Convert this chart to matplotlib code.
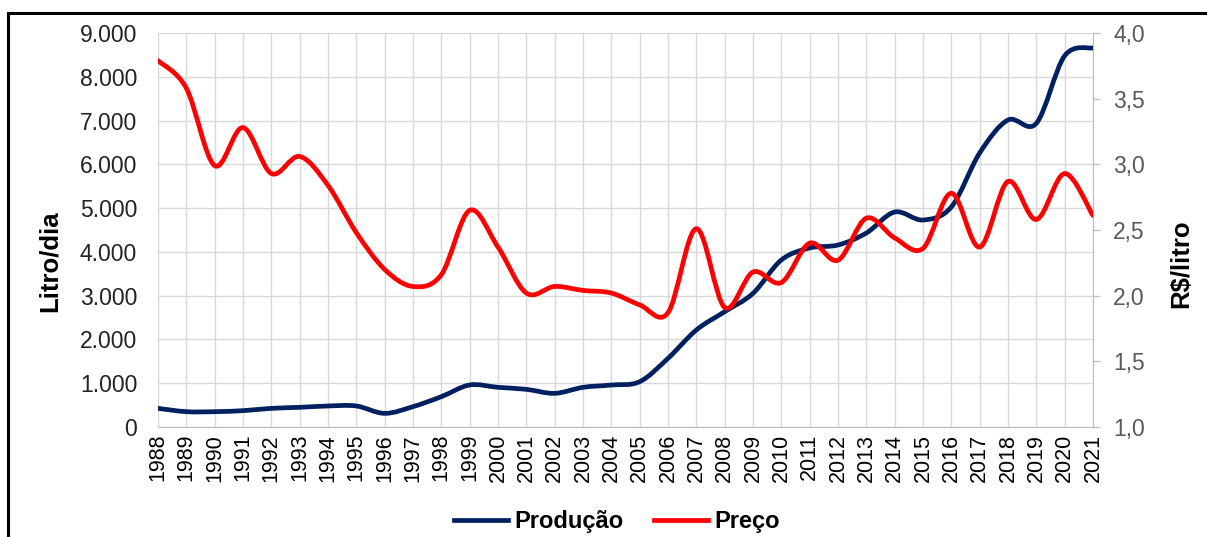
import matplotlib.pyplot as plt
import numpy as np
from matplotlib.path import Path
from matplotlib.patches import PathPatch
from matplotlib.lines import Line2D
from matplotlib.ticker import FuncFormatter

plt.rcParams['font.family'] = ['Liberation Sans', 'DejaVu Sans']

# dados
anos = list(range(1988, 2022))
producao = [426, 350, 350, 373, 426, 449, 480, 480, 312, 465,
            693, 960, 906, 860, 769, 906, 959, 1035, 1568, 2216,
            2634, 3053, 3815, 4090, 4157, 4431, 4911, 4728, 5026, 6259,
            7013, 6937, 8480, 8660]
preco = [3.79, 3.58, 2.99, 3.28, 2.93, 3.06, 2.84, 2.48, 2.20, 2.07,
         2.16, 2.65, 2.37, 2.02, 2.07, 2.04, 2.02, 1.93, 1.87, 2.51,
         1.91, 2.18, 2.10, 2.40, 2.27, 2.59, 2.44, 2.36, 2.78, 2.37,
         2.87, 2.58, 2.93, 2.61]

azul = '#002060'
vermelho = '#FF0000'
cinza = '#595959'


def curva_suave(x, y):
    # curva bezier tipo "linha suavizada" do Excel
    x = np.asarray(x, float)
    y = np.asarray(y, float)
    n = len(x)
    verts = [(x[0], y[0])]
    codes = [Path.MOVETO]
    for i in range(n - 1):
        i0 = max(i - 1, 0)
        i3 = min(i + 2, n - 1)
        c1 = (x[i] + (x[i + 1] - x[i0]) / 6, y[i] + (y[i + 1] - y[i0]) / 6)
        c2 = (x[i + 1] - (x[i3] - x[i]) / 6, y[i + 1] - (y[i3] - y[i]) / 6)
        verts += [c1, c2, (x[i + 1], y[i + 1])]
        codes += [Path.CURVE4] * 3
    return Path(verts, codes)


fig = plt.figure(figsize=(12.07, 5.37), dpi=100)
ax = fig.add_axes([158 / 1207, 1 - 427 / 537, 935 / 1207, 394 / 537])
ax2 = ax.twinx()

ax.set_xlim(1988, 2021)
ax.set_ylim(0, 9000)
ax2.set_ylim(1.0, 4.0)

ax.add_patch(PathPatch(curva_suave(anos, producao), fill=False, edgecolor=azul,
                       lw=3.4, capstyle='round', joinstyle='round', zorder=3))
ax2.add_patch(PathPatch(curva_suave(anos, preco), fill=False, edgecolor=vermelho,
                        lw=3.4, capstyle='round', joinstyle='round', zorder=3))

ax.set_xticks(anos)
ax.set_xticklabels([str(a) for a in anos], rotation=90, fontsize=15.5)
ax.set_yticks(np.arange(0, 9001, 1000))
ax.yaxis.set_major_formatter(FuncFormatter(lambda v, p: f'{int(v):,}'.replace(',', '.')))
ax2.set_yticks(np.arange(1.0, 4.01, 0.5))
ax2.yaxis.set_major_formatter(FuncFormatter(lambda v, p: f'{v:.1f}'.replace('.', ',')))

ax.grid(True, color='#D9D9D9', lw=1)
ax.set_axisbelow(True)
ax.tick_params(axis='x', length=0, pad=5, colors='black')
ax.tick_params(axis='y', length=0, pad=15, labelsize=16.5, colors='#222222')
ax2.tick_params(axis='y', length=5, width=1, color='#BFBFBF', pad=9.5,
                labelsize=16.5, labelcolor=cinza)

for a in (ax, ax2):
    for s in ('top', 'left'):
        a.spines[s].set_visible(False)
    a.spines['bottom'].set_color('#BFBFBF')
    a.spines['right'].set_color('#BFBFBF')
ax.spines['right'].set_visible(False)

ax.set_ylabel('Litro/dia', fontsize=18.5, fontweight='bold')
ax.yaxis.set_label_coords(-0.103, 0.42)
ax2.set_ylabel('R$/litro', fontsize=18.5, fontweight='bold')
ax2.yaxis.set_label_coords(1.082, 0.414)

handles = [Line2D([], [], color=azul, lw=3.4), Line2D([], [], color=vermelho, lw=3.4)]
fig.legend(handles, ['Produção', 'Preço'], loc='center', ncol=2,
           bbox_to_anchor=(0.511, 0.028), frameon=False,
           prop={'size': 17, 'weight': 'bold'}, handlelength=2.3,
           handletextpad=0.25, columnspacing=1.3)

# moldura (so esquerda e topo aparecem)
fig.add_artist(Line2D([7.5 / 1207, 7.5 / 1207], [0, 1 - 12.5 / 537],
                      color='black', lw=2.2, transform=fig.transFigure))
fig.add_artist(Line2D([7.5 / 1207, 1], [1 - 12.5 / 537, 1 - 12.5 / 537],
                      color='black', lw=2.2, transform=fig.transFigure))

fig.savefig('out.png', dpi=100)
